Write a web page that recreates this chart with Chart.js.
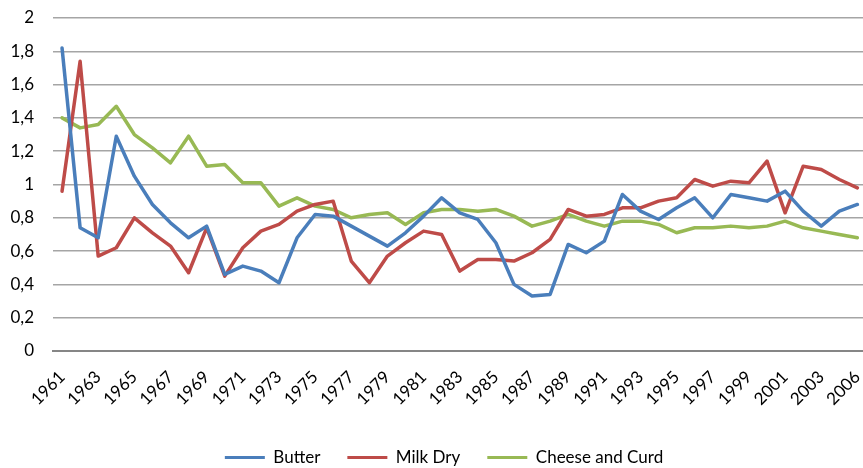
<!DOCTYPE html>
<html>
<head>
<meta charset="utf-8">
<title>Butter, Milk Dry, Cheese and Curd</title>
<script src="https://cdn.jsdelivr.net/npm/chart.js@4/dist/chart.umd.min.js"></script>
<style>
    html, body { margin: 0; padding: 0; background: #fff; overflow: hidden; }
    #wrap { width: 863px; height: 468px; overflow: hidden; position: relative; }
    canvas { display: block; }
</style>
</head>
<body>
<div id="wrap">
    <canvas id="dairyChart" width="888" height="476"></canvas>
</div>
<script>
var years = [
    '1961', '1962', '1963', '1964', '1965', '1966', '1967', '1968', '1969', '1970',
    '1971', '1972', '1973', '1974', '1975', '1976', '1977', '1978', '1979', '1980',
    '1981', '1982', '1983', '1984', '1985', '1986', '1987', '1988', '1989', '1990',
    '1991', '1992', '1993', '1994', '1995', '1996', '1997', '1998', '1999', '2000',
    '2001', '2002', '2003', '2005', '2006'
];

var butter = [
    1.82, 0.74, 0.68, 1.29, 1.05, 0.88, 0.77, 0.68, 0.75, 0.46,
    0.51, 0.48, 0.41, 0.68, 0.82, 0.81, 0.75, 0.69, 0.63, 0.71,
    0.81, 0.92, 0.83, 0.79, 0.65, 0.40, 0.33, 0.34, 0.64, 0.59,
    0.66, 0.94, 0.84, 0.79, 0.86, 0.92, 0.80, 0.94, 0.92, 0.90,
    0.96, 0.84, 0.75, 0.84, 0.88
];

var milkDry = [
    0.96, 1.74, 0.57, 0.62, 0.80, 0.71, 0.63, 0.47, 0.74, 0.45,
    0.62, 0.72, 0.76, 0.84, 0.88, 0.90, 0.54, 0.41, 0.57, 0.65,
    0.72, 0.70, 0.48, 0.55, 0.55, 0.54, 0.59, 0.67, 0.85, 0.81,
    0.82, 0.86, 0.86, 0.90, 0.92, 1.03, 0.99, 1.02, 1.01, 1.14,
    0.83, 1.11, 1.09, 1.03, 0.98
];

var cheeseCurd = [
    1.40, 1.34, 1.36, 1.47, 1.30, 1.22, 1.13, 1.29, 1.11, 1.12,
    1.01, 1.01, 0.87, 0.92, 0.87, 0.85, 0.80, 0.82, 0.83, 0.76,
    0.83, 0.85, 0.85, 0.84, 0.85, 0.81, 0.75, 0.78, 0.82, 0.78,
    0.75, 0.78, 0.78, 0.76, 0.71, 0.74, 0.74, 0.75, 0.74, 0.75,
    0.78, 0.74, 0.72, 0.70, 0.68
];

var yMin = 0;
var yMax = 2;
var yStep = 0.2;

document.addEventListener("DOMContentLoaded", function() {
    drawChart();
});

function makeLine(label, data, color) {
    return {
        label: label,
        data: data,
        borderColor: color,
        backgroundColor: color,
        borderWidth: 3.5,
        pointRadius: 0,
        pointHoverRadius: 0,
        tension: 0,
        fill: false,
        borderJoinStyle: 'round',
        borderCapStyle: 'round'
    };
}

// the original legend is centred on a slightly wider chart than the window
var shiftLegend = {
    id: 'shiftLegend',
    afterLayout: function(chart) {
        if (chart.legend) {
            chart.legend.left += 7;
            chart.legend.right += 7;
        }
    }
};

function drawChart() {
    var ctx = document.getElementById('dairyChart').getContext('2d');

    Chart.defaults.font.family = 'Lato';
    Chart.defaults.font.size = 17;
    Chart.defaults.color = '#000';

    window.myChart = new Chart(ctx, {
        type: 'line',
        data: {
            labels: years,
            datasets: [
                makeLine('Butter', butter, '#4A7EBB'),
                makeLine('Milk Dry', milkDry, '#BE4B48'),
                makeLine('Cheese and Curd', cheeseCurd, '#98B954')
            ]
        },
        plugins: [shiftLegend],
        options: {
            responsive: false,
            animation: false,
            layout: {
                padding: { left: 0, right: 14, top: 18, bottom: 0 }
            },
            plugins: {
                tooltip: { enabled: false },
                legend: {
                    display: true,
                    position: 'bottom',
                    labels: {
                        color: '#000',
                        boxWidth: 40,
                        boxHeight: 3,
                        padding: 27,
                        font: { size: 17 },
                        generateLabels: function(chart) {
                            var items = Chart.defaults.plugins.legend.labels.generateLabels(chart);
                            items.forEach(function(item) {
                                item.fillStyle = item.strokeStyle;
                                item.lineWidth = 0;
                            });
                            return items;
                        }
                    }
                }
            },
            scales: {
                x: {
                    offset: true,
                    grid: { display: false, drawTicks: false },
                    border: { display: true, color: '#868686', width: 2 },
                    ticks: {
                        autoSkip: false,
                        minRotation: 45,
                        maxRotation: 45,
                        padding: 16,
                        color: '#000',
                        callback: function(value, index) {
                            return index % 2 === 0 ? this.getLabelForValue(value) : '';
                        }
                    },
                    afterFit: function(scale) {
                        scale.height = 71;
                    }
                },
                y: {
                    min: yMin,
                    max: yMax,
                    grid: { color: '#a5a5a5', lineWidth: 1.5, drawTicks: false },
                    border: { display: false },
                    ticks: {
                        stepSize: yStep,
                        padding: 19,
                        color: '#000',
                        callback: function(value) {
                            return String(Number(value.toFixed(1))).replace('.', ',');
                        }
                    },
                    afterFit: function(scale) {
                        scale.width = 53;
                        scale.paddingTop = 0;
                        scale.paddingBottom = 0;
                    }
                }
            }
        }
    });
}
</script>
</body>
</html>
